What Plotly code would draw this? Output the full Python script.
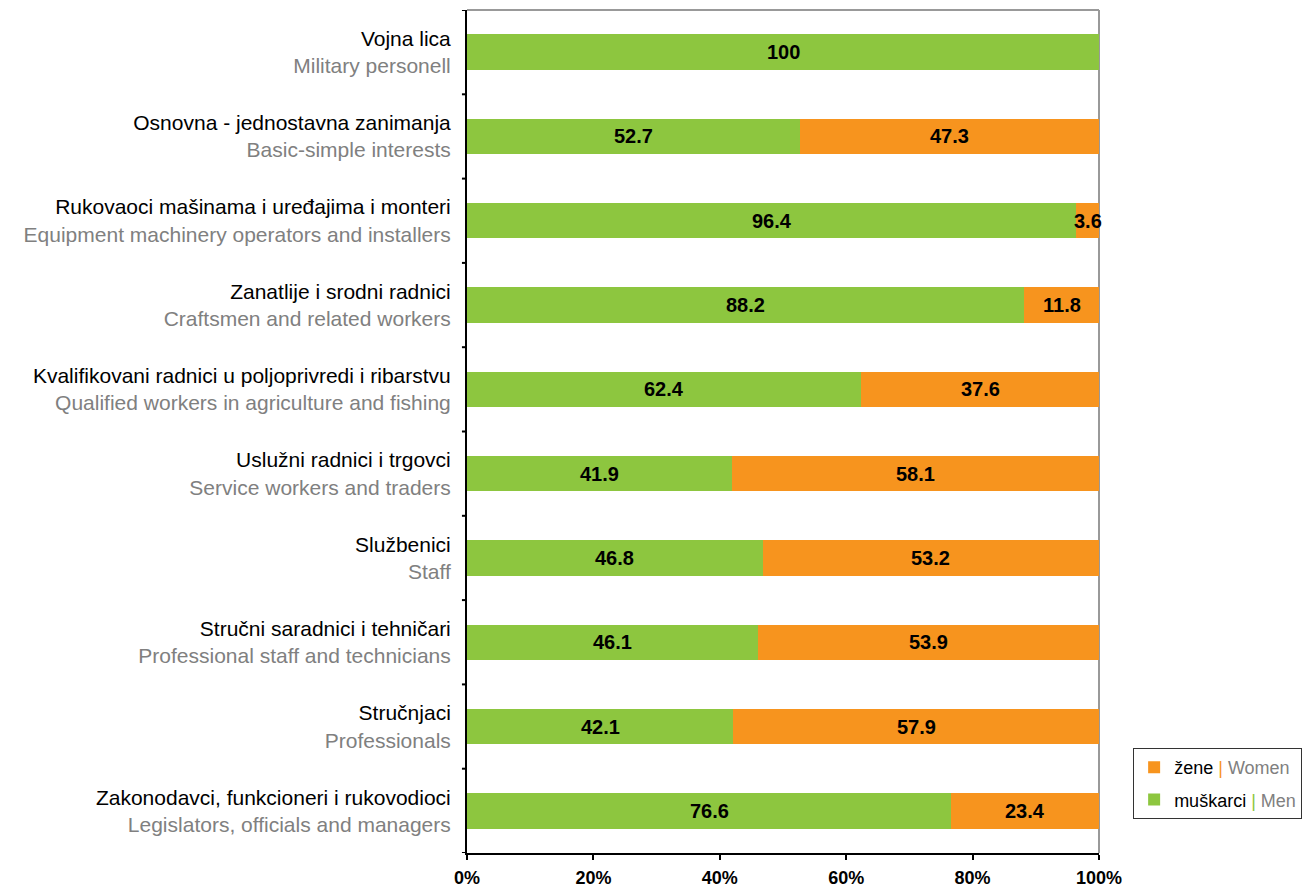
import plotly.graph_objects as go

# Occupation groups, listed bottom to top
occ_local = [
    "Zakonodavci, funkcioneri i rukovodioci",
    "Stručnjaci",
    "Stručni saradnici i tehničari",
    "Službenici",
    "Uslužni radnici i trgovci",
    "Kvalifikovani radnici u poljoprivredi i ribarstvu",
    "Zanatlije i srodni radnici",
    "Rukovaoci mašinama i uređajima i monteri",
    "Osnovna - jednostavna zanimanja",
    "Vojna lica",
]
occ_english = [
    "Legislators, officials and managers",
    "Professionals",
    "Professional staff and technicians",
    "Staff",
    "Service workers and traders",
    "Qualified workers in agriculture and fishing",
    "Craftsmen and related workers",
    "Equipment machinery operators and installers",
    "Basic-simple interests",
    "Military personell",
]
men = [76.6, 42.1, 46.1, 46.8, 41.9, 62.4, 88.2, 96.4, 52.7, 100]
women = [23.4, 57.9, 53.9, 53.2, 58.1, 37.6, 11.8, 3.6, 47.3, 0]
x_ticks = [0, 20, 40, 60, 80, 100]

GREEN = "#8DC63F"
ORANGE = "#F7941E"
GREY = "#808080"
FONT = "Liberation Sans, Arial, sans-serif"

cats = list(range(len(occ_local)))
tick_text = [f"{a}<br><span style='color:{GREY}'>{b}</span>" for a, b in zip(occ_local, occ_english)]

fig = go.Figure()
fig.add_trace(go.Bar(
    y=cats, x=men, orientation="h",
    name=f"muškarci <span style='color:{GREEN}'>|</span> <span style='color:{GREY}'>Men</span>",
    legendgroup="men", legendrank=2,
    marker=dict(color=GREEN, line=dict(width=0)), width=0.42,
    hoverinfo="skip",
))
fig.add_trace(go.Bar(
    y=cats, x=women, orientation="h",
    name=f"žene <span style='color:{ORANGE}'>|</span> <span style='color:{GREY}'>Women</span>",
    legendgroup="women", legendrank=1,
    marker=dict(color=ORANGE, line=dict(width=0)), width=0.42,
    hoverinfo="skip",
))

# Value labels centred on each stacked segment (unclipped so narrow segments still show)
for c, m, w in zip(cats, men, women):
    for start, val in ((0, m), (m, w)):
        if val == 0:
            continue
        fig.add_annotation(
            x=start + val / 2, y=c, xref="x", yref="y", text=f"{val:g}",
            showarrow=False, xanchor="center", yanchor="middle",
            font=dict(family=FONT, size=20, color="black", weight="bold"),
        )

fig.update_layout(
    barmode="stack",
    width=1306, height=889,
    margin=dict(l=467, r=207, t=10, b=36, autoexpand=False),
    plot_bgcolor="white", paper_bgcolor="white",
    font=dict(family=FONT, color="black"),
    legend=dict(
        x=1.054, xanchor="left", y=0.1246, yanchor="top",
        traceorder="grouped", tracegroupgap=6,
        bordercolor="#333333", borderwidth=1, bgcolor="white",
        font=dict(family=FONT, size=18, color="black"),
    ),
    xaxis=dict(
        range=[0, 100], tickvals=x_ticks, ticktext=[f"{v}%" for v in x_ticks],
        showgrid=False, zeroline=False, automargin=False,
        showline=True, linecolor="black", linewidth=2,
        ticks="outside", ticklen=5, tickwidth=2, tickcolor="black",
        tickfont=dict(family=FONT, size=18, color="black", weight="bold"),
        ticklabelstandoff=2,
    ),
    yaxis=dict(
        type="linear", range=[-0.5, 9.5], automargin=False,
        tickvals=cats, ticktext=tick_text,
        showgrid=False, zeroline=False,
        showline=True, linecolor="black", linewidth=2,
        ticks="", tickfont=dict(family=FONT, size=21, color="black"),
        ticklabelstandoff=10,
    ),
)

# Boundary ticks on the category axis
for b in [i - 0.5 for i in range(len(cats) + 1)]:
    fig.add_shape(type="line", xref="paper", yref="y", x0=-0.008, x1=0, y0=b, y1=b,
                  line=dict(color="black", width=2), layer="above")

# Light frame along top and right edges
fig.add_shape(type="line", xref="paper", yref="paper", x0=0, x1=1, y0=1, y1=1,
              line=dict(color="#999999", width=2), layer="below")
fig.add_shape(type="line", xref="paper", yref="paper", x0=1, x1=1, y0=0, y1=1,
              line=dict(color="#999999", width=2), layer="below")

fig.write_html("out.html")
